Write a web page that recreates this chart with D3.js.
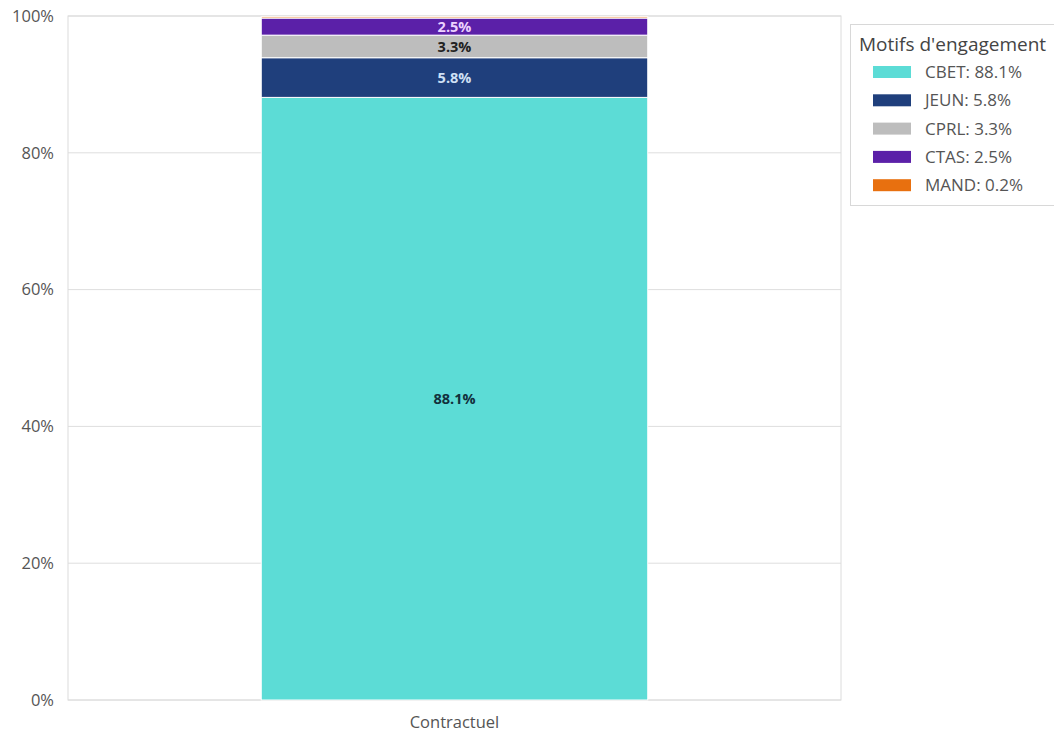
<!DOCTYPE html>
<html><head><meta charset="utf-8">
<script src="https://cdn.jsdelivr.net/npm/d3@7"></script>
<style>
body{margin:0;background:#fff;font-family:"Open Sans",sans-serif;}
</style></head>
<body><svg id="c" width="1054" height="733"></svg>
<script>
const categories = ["Contractuel"];
const seriesNames = ["CBET","JEUN","CPRL","CTAS","MAND"];
const seriesValues = [88.1, 5.8, 3.3, 2.5, 0.2];
const seriesColors = ["#5cdcd6","#1f3f7c","#bdbdbd","#5b20a8","#e8700f"];
const labelColors = ["#12303c","#cfe0f5","#222222","#ecd2ff",null];
const yTicks = [0,20,40,60,80,100];
const legendTitle = "Motifs d'engagement";

const svg = d3.select("#c");
const m = {l:68, r:841, t:16, b:700};
const x = d3.scaleBand().domain(categories).range([m.l,m.r]).paddingInner(0.5).paddingOuter(0.25);
const y = d3.scaleLinear().domain([0,100]).range([m.b,m.t]);

// grid
svg.append("g").selectAll("line").data(yTicks).join("line")
  .attr("x1",m.l).attr("x2",m.r).attr("y1",d=>y(d)).attr("y2",d=>y(d))
  .attr("stroke","#dedede").attr("stroke-width",1);
svg.append("rect").attr("x",m.l).attr("y",m.t).attr("width",m.r-m.l).attr("height",m.b-m.t)
  .attr("fill","none").attr("stroke","#dcdcdc");

// y axis
const yAxis = d3.axisLeft(y).tickValues(yTicks).tickFormat(d=>d+"%").tickSize(0).tickPadding(14);
const ya = svg.append("g").attr("transform",`translate(${m.l},0)`).call(yAxis);
ya.select(".domain").remove();
ya.selectAll("text").attr("font-size",16.5).attr("fill","#555").attr("font-family","'Open Sans',sans-serif");

// x axis
const xAxis = d3.axisBottom(x).tickSize(0).tickPadding(16);
const xa = svg.append("g").attr("transform",`translate(0,${m.b})`).call(xAxis);
xa.select(".domain").remove();
xa.selectAll("text").attr("font-size",16.5).attr("fill","#555").attr("font-family","'Open Sans',sans-serif");

// stack
const row = {cat: categories[0]};
seriesNames.forEach((s,i)=>row[s]=seriesValues[i]);
const stack = d3.stack().keys(seriesNames)([row]);
const segs = svg.append("g");
stack.forEach((layer,i)=>{
  const d = layer[0];
  segs.append("rect").attr("x",x(categories[0])).attr("width",x.bandwidth())
    .attr("y",y(d[1])).attr("height",Math.max(0,y(d[0])-y(d[1])))
    .attr("fill",seriesColors[i]).attr("stroke","#fff").attr("stroke-width",1);
});
stack.forEach((layer,i)=>{
  const d = layer[0];
  if (seriesValues[i] < 1) return;
  segs.append("text").attr("x",x(categories[0])+x.bandwidth()/2)
    .attr("y",(y(d[0])+y(d[1]))/2).attr("dy","0.35em").attr("text-anchor","middle")
    .attr("font-size",14.5).attr("font-weight","bold").attr("fill",labelColors[i])
    .text(seriesValues[i].toFixed(1)+"%");
});

// legend
const lg = svg.append("g");
lg.append("rect").attr("x",850.5).attr("y",24.5).attr("width",210).attr("height",181)
  .attr("fill","#fff").attr("stroke","#d8d8d8");
lg.append("text").attr("x",859).attr("y",51).attr("font-size",19).attr("fill","#444").text(legendTitle);
seriesNames.forEach((s,i)=>{
  const yy = 72 + i*28.3;
  lg.append("rect").attr("x",873).attr("y",yy-6).attr("width",38).attr("height",12).attr("fill",seriesColors[i]);
  lg.append("text").attr("x",925).attr("y",yy).attr("dy","0.35em").attr("font-size",17).attr("fill","#555")
    .text(s+": "+seriesValues[i].toFixed(1)+"%");
});
</script></body></html>
